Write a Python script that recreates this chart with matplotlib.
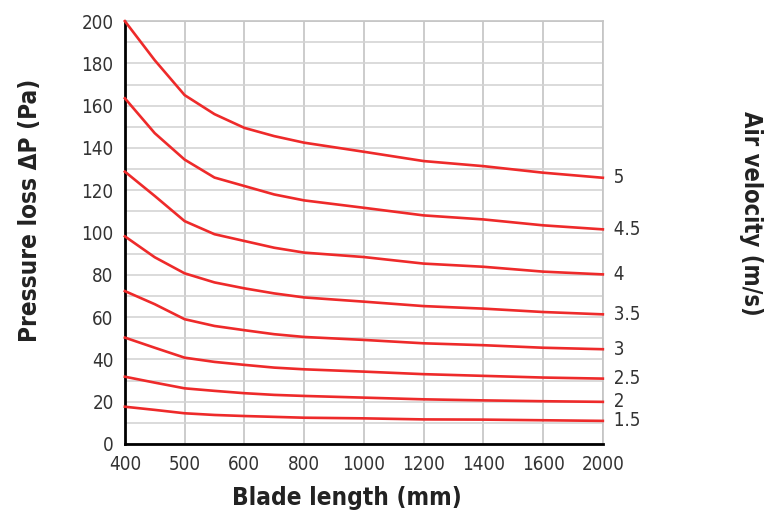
import numpy as np
import matplotlib
matplotlib.use('Agg')
import matplotlib.pyplot as plt
from matplotlib import font_manager

names = set(f.name for f in font_manager.fontManager.ttflist)
if 'Liberation Sans Narrow' in names:
    plt.rcParams['font.family'] = ['Liberation Sans Narrow', 'DejaVu Sans']
else:
    plt.rcParams['font.family'] = ['DejaVu Sans']
    plt.rcParams['font.stretch'] = 'condensed'

# blade lengths on the axis (evenly spaced categories)
tick_lengths = [400, 500, 600, 800, 1000, 1200, 1400, 1600, 2000]

# points
lengths = [400, 450, 500, 550, 600, 700, 800, 1000, 1200, 1400, 1600, 2000]
v5   = [200, 181.5, 165, 156, 149.5, 145.6, 142.5, 138.2, 133.8, 131.4, 128.3, 125.9]
v4_5 = [163.5, 147, 134.5, 126, 122, 118, 115.2, 111.7, 108.1, 106.2, 103.4, 101.5]
v4   = [128.8, 117.3, 105.4, 99.2, 96, 92.8, 90.5, 88.4, 85.3, 83.8, 81.5, 80.2]
v3_5 = [98.2, 88.3, 80.7, 76.4, 73.6, 71.2, 69.3, 67.3, 65.2, 64, 62.4, 61.3]
v3   = [72.3, 66.1, 59, 55.8, 53.8, 51.9, 50.6, 49.2, 47.6, 46.7, 45.5, 44.8]
v2_5 = [50.3, 45.5, 40.8, 38.8, 37.4, 36.1, 35.3, 34.2, 33, 32.2, 31.4, 30.9]
v2   = [31.8, 29, 26.3, 25.1, 24, 23.2, 22.7, 21.9, 21.1, 20.6, 20.2, 19.9]
v1_5 = [17.6, 16.1, 14.5, 13.7, 13.2, 12.8, 12.4, 12.1, 11.6, 11.5, 11.2, 10.9]

velocities = ['5', '4.5', '4', '3.5', '3', '2.5', '2', '1.5']
series = [v5, v4_5, v4, v3_5, v3, v2_5, v2, v1_5]

pos = np.arange(len(tick_lengths))


def fwd(x):
    return np.interp(x, tick_lengths, pos)


def inv(p):
    return np.interp(p, pos, tick_lengths)


fig = plt.figure(figsize=(7.66, 5.15), dpi=100)
ax = fig.add_axes([0.163, 0.138, 0.624, 0.821])
ax.set_xscale('function', functions=(fwd, inv))

for name, vals in zip(velocities, series):
    ax.plot(lengths, vals, color='#ee2a2a', lw=1.9, clip_on=False, zorder=3,
            solid_joinstyle='round')
    ax.text(2000, vals[-1], '  ' + name, fontsize=13.5, color='#333333',
            va='center', ha='left')

ax.set_xlim(400, 2000)
ax.set_ylim(0, 200)
ax.set_xticks(tick_lengths)
ax.set_xticklabels([str(t) for t in tick_lengths])
ax.set_yticks(np.arange(0, 201, 20))
ax.set_yticks(np.arange(0, 201, 10), minor=True)
ax.tick_params(axis='both', which='both', length=0, labelsize=13.5,
               labelcolor='#333333')
ax.tick_params(axis='x', pad=8)
ax.tick_params(axis='y', pad=8)

ax.grid(True, which='major', axis='x', color='#c4c4c4', lw=1.2)
ax.grid(True, which='both', axis='y', color='#d4d4d4', lw=1.2)
ax.set_axisbelow(True)

for s in ['top', 'right']:
    ax.spines[s].set_color('#c4c4c4')
    ax.spines[s].set_linewidth(1.2)
for s in ['left', 'bottom']:
    ax.spines[s].set_color('black')
    ax.spines[s].set_linewidth(2)

ax.set_xlabel('Blade length (mm)', fontsize=17.5, fontweight='bold',
              color='#222222')
ax.xaxis.set_label_coords(0.464, -0.1)
ax.set_ylabel('Pressure loss ΔP (Pa)', fontsize=17.5, fontweight='bold',
              color='#222222')
ax.yaxis.set_label_coords(-0.174, 0.553)
fig.text(0.98, 0.585, 'Air velocity (m/s)', fontsize=17, fontweight='bold',
         color='#222222', rotation=-90, ha='center', va='center')

fig.savefig('out.png', dpi=100)
